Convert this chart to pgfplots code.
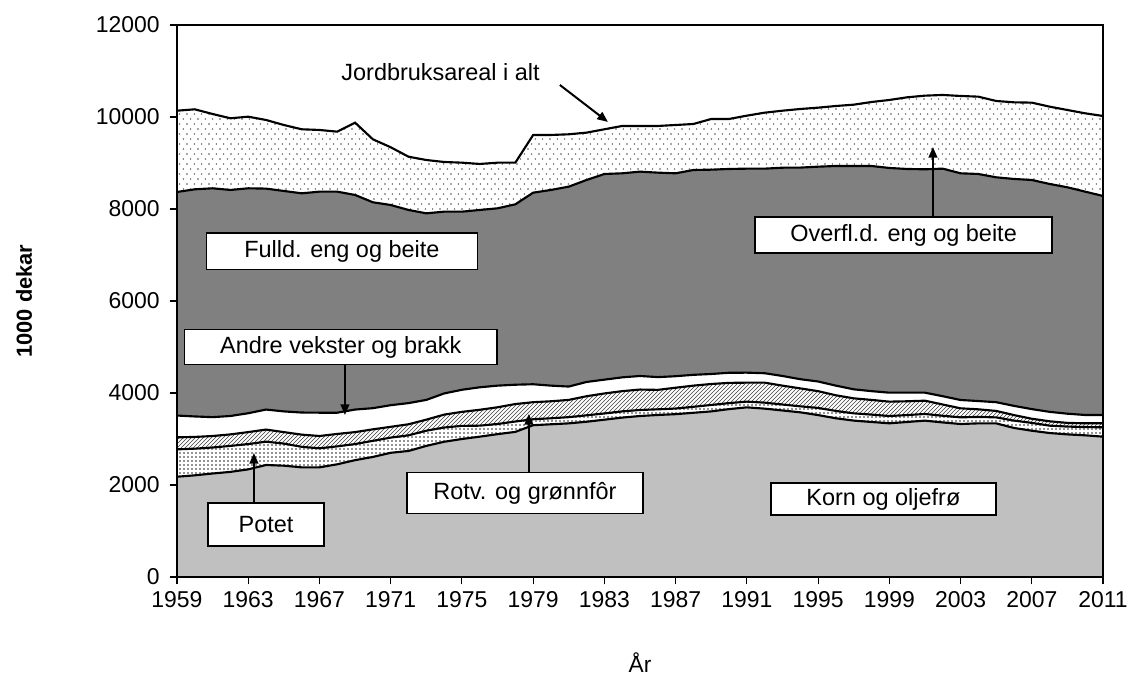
\documentclass[border=0pt]{standalone}
\usepackage{fontspec}
\setmainfont{Liberation Sans}
\usepackage{pgfplots}
\usepackage{pgfplotstable}
\pgfplotsset{compat=1.18}
\usepgfplotslibrary{fillbetween}
\usetikzlibrary{patterns,arrows.meta}
\definecolor{korn}{HTML}{C0C0C0}
\definecolor{fulld}{HTML}{808080}
\pgfdeclarepatternformonly{sparsedots}{\pgfqpoint{-0.7pt}{-0.7pt}}{\pgfqpoint{4.8pt}{6.8pt}}{\pgfqpoint{5.5pt}{7.5pt}}{%
  \pgfpathcircle{\pgfqpoint{0pt}{0pt}}{0.6pt}%
  \pgfpathcircle{\pgfqpoint{2.75pt}{3.75pt}}{0.6pt}%
  \pgfusepath{fill}}
\pgfdeclarepatternformonly{densedots}{\pgfqpoint{-0.8pt}{-0.8pt}}{\pgfqpoint{2.2pt}{2.2pt}}{\pgfqpoint{3pt}{3pt}}{%
  \pgfpathcircle{\pgfqpoint{0pt}{0pt}}{0.7pt}%
  \pgfusepath{fill}}
\pgfplotstableread{
yr K P R A F T
1959 2180 2775 3036 3510 8370 10137
1960 2210 2790 3045 3490 8428 10167
1961 2250 2815 3065 3475 8450 10065
1962 2285 2850 3100 3500 8414 9972
1963 2340 2890 3150 3560 8450 10007
1964 2435 2942 3205 3640 8443 9935
1965 2420 2900 3150 3600 8392 9826
1966 2384 2830 3095 3575 8341 9733
1967 2384 2797 3065 3572 8377 9718
1968 2450 2840 3110 3572 8377 9681
1969 2540 2890 3150 3640 8305 9877
1970 2610 2960 3210 3670 8146 9515
1971 2700 3030 3265 3735 8087 9342
1972 2740 3080 3320 3780 7979 9137
1973 2850 3180 3420 3850 7906 9065
1974 2940 3250 3530 3990 7942 9022
1975 3000 3285 3590 4070 7942 9007
1976 3051 3290 3635 4124 7979 8979
1977 3105 3326 3690 4160 8015 9007
1978 3155 3380 3760 4180 8102 9007
1979 3300 3430 3800 4190 8355 9609
1980 3320 3450 3820 4160 8414 9609
1981 3340 3475 3850 4140 8486 9624
1982 3375 3515 3930 4240 8631 9660
1983 3420 3555 3990 4290 8761 9733
1984 3465 3600 4040 4340 8776 9805
1985 3500 3631 4075 4370 8812 9805
1986 3522 3645 4068 4345 8790 9805
1987 3540 3662 4115 4365 8776 9826
1988 3570 3700 4160 4395 8848 9848
1989 3600 3740 4196 4413 8855 9957
1990 3650 3780 4220 4440 8870 9957
1991 3688 3812 4225 4442 8877 10029
1992 3660 3790 4225 4430 8877 10094
1993 3620 3750 4160 4370 8898 10137
1994 3580 3710 4100 4300 8900 10174
1995 3520 3675 4040 4250 8920 10203
1996 3450 3610 3950 4160 8935 10239
1997 3400 3558 3884 4080 8935 10268
1998 3370 3530 3850 4040 8935 10326
1999 3341 3500 3812 4007 8892 10370
2000 3370 3520 3820 4007 8870 10428
2001 3399 3544 3833 4007 8863 10464
2002 3360 3505 3750 3930 8877 10479
2003 3326 3471 3667 3848 8776 10457
2004 3340 3480 3645 3825 8761 10442
2005 3340 3470 3610 3800 8689 10348
2006 3240 3400 3520 3720 8653 10319
2007 3180 3350 3440 3650 8631 10312
2008 3130 3290 3385 3590 8544 10225
2009 3100 3270 3350 3550 8472 10152
2010 3080 3260 3341 3522 8377 10080
2011 3051 3254 3341 3522 8283 10022
}\datatable
\begin{document}
\begin{tikzpicture}
\begin{axis}[
  at={(0pt,0pt)}, anchor=south west,
  scale only axis, width=694.5pt, height=414pt,
  xmin=1959, xmax=2011, ymin=0, ymax=12000,
  xtick={1959,1963,...,2011}, minor x tick num=3,
  ytick={0,2000,...,12000},
  scaled y ticks=false, scaled x ticks=false,
  xtick pos=left, ytick pos=left,
  tick align=outside, major tick length=5.5pt, minor tick length=5pt,
  every tick/.style={black, line width=0.8pt},
  /pgf/number format/1000 sep={},
  /pgf/number format/assume math mode=true,
  ticklabel style={font=\fontsize{17.2}{20}\selectfont},
  yticklabel style={xshift=-4pt},
  xticklabel style={yshift=-2pt},
  axis line style={line width=1pt},
  axis on top,
  clip=false,
  xlabel={År},
  xlabel style={at={(axis description cs:0.5,-0.1558)}, anchor=center, font=\fontsize{17}{20}\selectfont},
  ylabel={\bfseries 1000 dekar},
  ylabel style={at={(axis description cs:-0.1652,0.5)}, anchor=center, font=\fontsize{16.4}{20}\selectfont},
]
\addplot[draw=none, name path=zero, forget plot] coordinates {(1959,0) (2011,0)};
\addplot[black, line width=1.6pt, name path=K] table[x=yr,y=K]{\datatable};
\addplot[black, line width=1.6pt, name path=P] table[x=yr,y=P]{\datatable};
\addplot[black, line width=1.6pt, name path=R] table[x=yr,y=R]{\datatable};
\addplot[black, line width=1.6pt, name path=A] table[x=yr,y=A]{\datatable};
\addplot[black, line width=1.6pt, name path=F] table[x=yr,y=F]{\datatable};
\addplot[black, line width=1.6pt, name path=T] table[x=yr,y=T]{\datatable};
\addplot[korn, draw=none] fill between[of=K and zero];
\addplot[pattern=densedots, pattern color=black!85, draw=none] fill between[of=P and K];
\addplot[pattern=north east lines, pattern color=black!75, draw=none] fill between[of=R and P];
\addplot[white, draw=none] fill between[of=A and R];
\addplot[fulld, draw=none] fill between[of=F and A];
\addplot[pattern=sparsedots, pattern color=black!70, draw=none] fill between[of=T and F];

\tikzset{lbl/.style={draw=black, fill=white, line width=1pt, inner sep=0pt, font=\fontsize{17.6}{20}\selectfont}}
\tikzset{arr/.style={-{Triangle[length=8pt,width=6.5pt]}, line width=1.5pt, black}}

\node[font=\fontsize{17.6}{20}\selectfont] at (axis cs:1973.8,10979) {Jordbruksareal i alt};
\draw[arr] (axis cs:1980.5,10696) -- (axis cs:1983.2,9892);

\draw[arr] (axis cs:2001.45,7826) -- (axis cs:2001.45,9348);
\node[lbl, minimum width=222.75pt, minimum height=27pt] at (axis cs:1999.8,7435) {Overfl.d. eng og beite};

\node[lbl, minimum width=203pt, minimum height=27.5pt] at (axis cs:1968.26,7080) {Fulld. eng og beite};

\draw[arr] (axis cs:1968.43,4631) -- (axis cs:1968.43,3522);
\node[lbl, minimum width=234pt, minimum height=26.25pt] at (axis cs:1968.2,5000) {Andre vekster og brakk};

\draw[arr] (axis cs:1963.32,1609) -- (axis cs:1963.32,2696);
\node[lbl, minimum width=87pt, minimum height=32.25pt] at (axis cs:1964.0,1141) {Potet};

\draw[arr] (axis cs:1978.76,2261) -- (axis cs:1978.76,3544);
\node[lbl, minimum width=177pt, minimum height=30.75pt] at (axis cs:1978.54,1826) {Rotv. og grønnfôr};

\node[lbl, minimum width=168.75pt, minimum height=24pt] at (axis cs:1998.67,1696) {Korn og oljefrø};
\end{axis}
\pgfresetboundingbox
\path[use as bounding box] (-132.75pt,-84pt) rectangle (715.5pt,432.75pt);
\end{tikzpicture}
\end{document}
